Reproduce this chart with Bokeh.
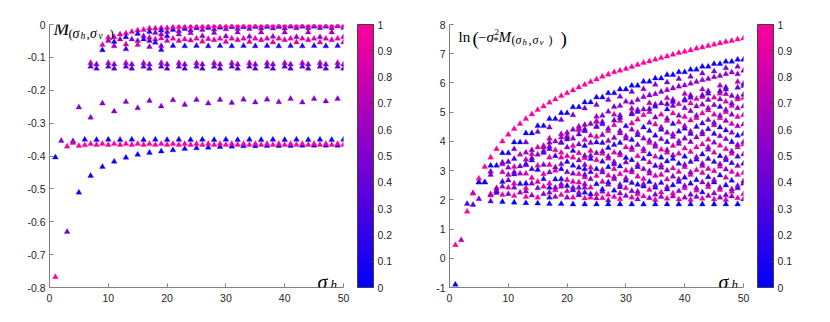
from bokeh.plotting import figure
from bokeh.models import (ColumnDataSource, LinearColorMapper, ColorBar, FixedTicker, Label, Range1d)
from bokeh.layouts import row
from bokeh.embed import file_html
from bokeh.resources import INLINE

# ======================= LEFT PANEL DATA: M(sigma_h, sigma_v) =======================
# lower curve, odd sigma_h
L1_x = [1, 3, 5, 7, 9, 11, 13, 15, 17, 19, 21, 23, 25, 27, 29, 31, 33, 35, 37, 39, 41, 43, 45, 47, 49]
L1_y = [-0.404, -0.631, -0.511, -0.460, -0.433, -0.417, -0.405, -0.396, -0.390, -0.386, -0.382, -0.378,
        -0.376, -0.374, -0.372, -0.371, -0.370, -0.370, -0.369, -0.369, -0.369, -0.368, -0.368, -0.368, -0.368]
L1_c = [0.0, 0.45, 0.1, 0.05, 0.05, 0.05, 0.05, 0.05, 0.05, 0.05, 0.05, 0.05, 0.05, 0.05, 0.05, 0.05,
        0.05, 0.05, 0.05, 0.05, 0.05, 0.05, 0.05, 0.05, 0.05]
# blue row near -0.35, even sigma_h
L2_x = [2, 4, 6, 8, 10, 12, 14, 16, 18, 20, 22, 24, 26, 28, 30, 32, 34, 36, 38, 40, 42, 44, 46, 48, 50]
L2_y = [-0.354, -0.355, -0.350, -0.351, -0.350, -0.351, -0.350, -0.351, -0.350, -0.351, -0.350, -0.351,
        -0.350, -0.351, -0.350, -0.351, -0.350, -0.351, -0.350, -0.351, -0.350, -0.351, -0.350, -0.351, -0.350]
L2_c = [0.5, 0.3, 0.05, 0.05, 0.05, 0.05, 0.05, 0.05, 0.05, 0.05, 0.05, 0.05, 0.05, 0.05, 0.05, 0.05,
        0.05, 0.05, 0.05, 0.05, 0.05, 0.05, 0.05, 0.05, 0.05]
# magenta row near -0.365
L3_x = [1, 3, 4, 5, 6, 7, 8, 9, 10, 11, 12, 13, 14, 15, 16, 17, 18, 19, 20, 21, 22, 23, 24, 25, 26, 27,
        28, 29, 30, 31, 32, 33, 34, 35, 36, 37, 38, 39, 40, 41, 42, 43, 44, 45, 46, 47, 48, 49, 50]
L3_y = [-0.768, -0.371, -0.360, -0.369, -0.367, -0.363, -0.366, -0.363, -0.366, -0.363, -0.366, -0.363,
        -0.366, -0.363, -0.366, -0.363, -0.366, -0.363, -0.366, -0.363, -0.366, -0.363, -0.366, -0.363,
        -0.366, -0.363, -0.366, -0.363, -0.366, -0.363, -0.366, -0.363, -0.366, -0.363, -0.366, -0.363,
        -0.366, -0.363, -0.366, -0.363, -0.366, -0.363, -0.366, -0.363, -0.366, -0.363, -0.366, -0.363, -0.366]
L3_c = [1.0, 1.0, 0.8] + [1.0] * 46
# purple row near -0.24, odd sigma_h
L4_x = [5, 7, 9, 11, 13, 15, 17, 19, 21, 23, 25, 27, 29, 31, 33, 35, 37, 39, 41, 43, 45, 47, 49]
L4_y = [-0.252, -0.283, -0.240, -0.264, -0.235, -0.254, -0.232, -0.249, -0.230, -0.244, -0.229, -0.240,
        -0.229, -0.238, -0.228, -0.237, -0.228, -0.236, -0.226, -0.237, -0.226, -0.234, -0.226]
L4_c = [0.5] * 23
# paired columns near -0.12
L5_x = [7, 7, 8, 8, 10, 10, 11, 11, 13, 13, 14, 14, 16, 16, 17, 17, 19, 19, 20, 20, 22, 22, 23, 23,
        25, 25, 26, 26, 28, 28, 29, 29, 31, 31, 32, 32, 34, 34, 35, 35, 37, 37, 38, 38, 40, 40, 41, 41,
        43, 43, 44, 44, 46, 46, 47, 47, 49, 49, 50, 50]
L5_y = [-0.117, -0.128, -0.121, -0.134] * 15
L5_c = [0.7, 0.35, 0.55, 0.3] * 15
# dense band close to zero
L6_x = [9, 9, 10, 10, 11, 11, 11, 12, 12, 13, 13, 13, 13, 14, 14, 15, 15, 15, 15, 16, 16, 16,
        17, 17, 17, 17, 17, 18, 18, 18, 18, 19, 19, 19, 19, 19, 19, 20, 20, 20, 20]
L6_y = [-0.062, -0.078, -0.050, -0.040, -0.038, -0.053, -0.066, -0.045, -0.030, -0.027, -0.038, -0.060,
        -0.075, -0.022, -0.045, -0.018, -0.028, -0.050, -0.062, -0.016, -0.035, -0.045, -0.012, -0.022,
        -0.040, -0.050, -0.068, -0.012, -0.025, -0.045, -0.055, -0.010, -0.018, -0.030, -0.042, -0.065,
        -0.077, -0.010, -0.022, -0.035, -0.050]
L6_c = [0.9, 0.05, 0.6, 0.85, 0.9, 0.1, 0.6, 0.6, 0.85, 0.95, 0.1, 0.85, 0.3, 0.9, 0.55, 0.95, 0.1,
        0.55, 0.85, 0.9, 0.6, 0.2, 0.95, 0.1, 0.85, 0.3, 0.55, 0.9, 0.55, 0.85, 0.2, 0.95, 0.1, 0.6,
        0.9, 0.55, 0.2, 0.9, 0.55, 0.15, 0.85]
L7_x = list(range(21, 51))
L7_top = [-0.008, -0.007, -0.007, -0.006, -0.006, -0.006, -0.005, -0.005, -0.005, -0.005, -0.004,
          -0.004, -0.004, -0.004, -0.004, -0.004, -0.003, -0.003, -0.003, -0.003, -0.003, -0.003,
          -0.003, -0.003, -0.003, -0.003, -0.003, -0.003, -0.003, -0.003]
L7_mid = [-0.016, -0.020, -0.013, -0.018, -0.011, -0.016, -0.010, -0.015, -0.009, -0.014, -0.008,
          -0.013, -0.008, -0.013, -0.007, -0.012, -0.007, -0.012, -0.007, -0.012, -0.006, -0.011,
          -0.006, -0.011, -0.006, -0.011, -0.006, -0.011, -0.005, -0.010]
L7_low = [-0.043, -0.030, -0.045, -0.026, -0.043, -0.035, -0.044, -0.025, -0.043, -0.036, -0.043,
          -0.024, -0.043, -0.037, -0.043, -0.024, -0.043, -0.037, -0.043, -0.024, -0.043, -0.038,
          -0.043, -0.024, -0.043, -0.038, -0.043, -0.024, -0.043, -0.038]
L7_deep = [-0.065, -0.050, -0.066, -0.048, -0.065, -0.052, -0.066, -0.047, -0.065, -0.053, -0.066,
           -0.047, -0.065, -0.053, -0.066, -0.047, -0.065, -0.054, -0.066, -0.047, -0.065, -0.054,
           -0.066, -0.047, -0.065, -0.054, -0.066, -0.047, -0.065, -0.054]
L7_c_top = [0.95] * 30
L7_c_mid = [0.1, 0.55] * 15
L7_c_low = [0.9, 0.6] * 15
L7_c_deep = [0.15, 0.85] * 15

# ======================= RIGHT PANEL DATA: ln(-sigma*^2 M) =======================
R1_x = list(range(3, 51))
R1_y = [1.60, 2.22, 2.73, 3.13, 3.45, 3.74, 4.00, 4.23, 4.43, 4.60, 4.77, 4.93, 5.08, 5.20, 5.33, 5.44,
        5.56, 5.65, 5.75, 5.85, 5.94, 6.04, 6.12, 6.22, 6.29, 6.37, 6.42, 6.48, 6.55, 6.62, 6.69, 6.74,
        6.80, 6.86, 6.91, 6.97, 7.03, 7.07, 7.12, 7.18, 7.22, 7.27, 7.31, 7.36, 7.41, 7.44, 7.49, 7.53]
R1_c = [1.0] * 48
R2_x = list(range(3, 51))
R2_y = [1.86, 1.83, 2.60, 2.60, 3.17, 3.17, 3.60, 3.60, 3.97, 3.97, 4.28, 4.28, 4.53, 4.53, 4.77, 4.77,
        4.97, 4.97, 5.17, 5.17, 5.34, 5.34, 5.51, 5.51, 5.65, 5.65, 5.78, 5.78, 5.91, 5.91, 6.05, 6.05,
        6.16, 6.16, 6.28, 6.28, 6.37, 6.37, 6.46, 6.46, 6.56, 6.56, 6.65, 6.65, 6.73, 6.73, 6.80, 6.80]
R2_c = [0.3, 0.3] + [0.05] * 46
R3_x = [1, 1, 2, 4, 5]
R3_y = [-0.90, 0.45, 0.62, 2.22, 2.03]
R3_c = [0.0, 1.0, 0.65, 0.8, 0.5]
# purple row under the blue curve (odd sigma_h)
R4_x = [7, 9, 11, 13, 15, 17, 19, 21, 23, 25, 27, 29, 31, 33, 35, 37, 39, 41, 43, 45, 47, 49]
R4_y = [2.86, 3.22, 3.74, 3.97, 4.33, 4.48, 4.74, 4.90, 5.13, 5.25, 5.42, 5.53, 5.70, 5.79, 5.94, 6.02,
        6.14, 6.22, 6.33, 6.40, 6.51, 6.56]
R4_c = [0.5] * 22
# paired columns (same family as the -0.12 pairs on the left)
R5_x = L5_x
R5_y = [2.15, 1.95, 2.31, 2.24, 2.86, 2.67, 2.95, 2.87, 3.38, 3.19, 3.43, 3.35, 3.80, 3.61, 3.82, 3.74,
        4.14, 3.95, 4.14, 4.07, 4.44, 4.24, 4.42, 4.35, 4.69, 4.50, 4.67, 4.59, 4.92, 4.72, 4.89, 4.81,
        5.12, 4.93, 5.08, 5.01, 5.31, 5.11, 5.26, 5.19, 5.48, 5.28, 5.43, 5.35, 5.63, 5.44, 5.58, 5.50,
        5.78, 5.58, 5.72, 5.64, 5.91, 5.72, 5.85, 5.78, 6.04, 5.84, 5.98, 5.90]
R5_c = L5_c
# bottom blue row (odd sigma_h)
R6_x = [9, 11, 13, 15, 17, 19, 21, 23, 25, 27, 29, 31, 33, 35, 37, 39, 41, 43, 45, 47, 49]
R6_y = [1.93, 1.91, 1.89, 1.88, 1.86, 1.86, 1.85, 1.85, 1.85, 1.85, 1.85, 1.85, 1.85, 1.85, 1.85, 1.85,
        1.85, 1.85, 1.85, 1.85, 1.85]
R6_c = [0.02] * 21
# the remaining cloud, column by column
R7_cols = [5, 6, 7, 8, 9, 10, 11, 12, 13, 14, 15, 16, 17, 18, 19, 20, 21, 22, 23, 24, 25, 26, 27, 28, 29,
           30, 31, 32, 33, 34, 35, 36, 37, 38, 39, 40, 41, 42, 43, 44, 45, 46, 47, 48, 49, 50]
R7_y = [
    [2.60],
    [2.60],
    [2.20, 2.97],
    [2.40, 2.31],
    [2.17, 2.45, 2.62, 2.95, 3.28],
    [2.20, 2.42, 3.10, 3.30],
    [2.14, 2.42, 2.56, 3.13, 3.40],
    [2.25, 2.55, 2.90, 3.15, 3.55],
    [2.10, 2.29, 2.40, 2.56, 2.90, 3.22, 3.62],
    [2.15, 2.56, 2.75, 3.05, 3.57, 3.70],
    [2.08, 2.40, 2.62, 3.03, 3.17, 3.55, 3.80],
    [2.20, 2.45, 2.71, 2.88, 3.20, 3.68, 3.85],
    [2.08, 2.25, 2.42, 2.56, 2.94, 3.20, 3.45, 3.96, 4.10],
    [2.10, 2.33, 2.42, 2.70, 3.00, 3.11, 3.50, 3.70, 4.00],
    [2.17, 2.45, 2.54, 2.71, 3.05, 3.22, 3.45, 3.62, 3.97, 4.25],
    [2.08, 2.30, 2.48, 2.68, 2.95, 3.30, 3.50, 3.80, 4.19, 4.30],
    [2.08, 2.33, 2.42, 2.62, 2.90, 3.17, 3.45, 3.68, 3.85, 4.10, 4.40],
    [2.16, 2.25, 2.42, 2.60, 2.88, 3.10, 3.35, 3.60, 3.90, 4.39, 4.51],
    [2.05, 2.25, 2.42, 2.54, 2.77, 2.86, 3.05, 3.20, 3.43, 3.51, 3.85, 4.05, 4.57],
    [2.08, 2.20, 2.42, 2.71, 2.95, 3.10, 3.40, 3.51, 3.68, 3.95, 4.20, 4.60],
    [2.05, 2.20, 2.54, 2.82, 3.05, 3.36, 3.60, 3.97, 4.16, 4.51, 4.67, 4.85],
    [2.06, 2.28, 2.36, 2.62, 2.94, 3.02, 3.31, 3.58, 3.66, 3.95, 4.22, 4.88],
    [1.98, 2.18, 2.52, 2.60, 2.83, 3.12, 3.41, 3.49, 3.78, 4.02, 4.35, 4.44, 5.02],
    [2.10, 2.32, 2.71, 2.79, 3.05, 3.22, 3.30, 3.62, 3.88, 4.12, 4.56, 5.18],
    [2.03, 2.22, 2.44, 2.52, 2.88, 3.15, 3.52, 3.60, 3.95, 4.28, 4.36, 4.70, 5.22],
    [2.14, 2.40, 2.66, 2.74, 3.00, 3.28, 3.44, 3.80, 4.10, 4.18, 4.52, 5.36],
    [2.08, 2.30, 2.58, 2.94, 3.02, 3.36, 3.70, 3.78, 4.05, 4.40, 4.62, 4.98, 5.33],
    [2.02, 2.20, 2.28, 2.52, 2.80, 3.12, 3.20, 3.50, 3.88, 4.22, 4.30, 4.75, 5.42],
    [2.12, 2.46, 2.54, 2.72, 3.05, 3.40, 3.66, 3.74, 4.10, 4.48, 4.90, 5.10, 5.52],
    [2.06, 2.34, 2.62, 2.90, 2.98, 3.28, 3.56, 3.95, 4.03, 4.36, 4.64, 5.00, 5.58],
    [2.00, 2.18, 2.42, 2.50, 2.82, 3.16, 3.48, 3.82, 3.90, 4.20, 4.58, 4.82, 5.62],
    [2.10, 2.26, 2.58, 2.86, 3.10, 3.18, 3.45, 3.72, 4.08, 4.40, 4.48, 4.92, 5.30, 5.70],
    [2.04, 2.36, 2.44, 2.70, 3.00, 3.32, 3.62, 3.70, 3.98, 4.30, 4.70, 4.78, 5.10, 5.76],
    [2.12, 2.22, 2.50, 2.80, 3.08, 3.40, 3.52, 3.85, 4.16, 4.24, 4.60, 4.96, 5.22, 5.82],
    [2.02, 2.30, 2.62, 2.70, 2.96, 3.24, 3.58, 3.92, 4.00, 4.34, 4.66, 4.88, 5.28, 5.88],
    [2.08, 2.40, 2.48, 2.76, 3.12, 3.20, 3.48, 3.76, 4.10, 4.44, 4.52, 4.84, 5.14, 5.40, 5.92],
    [2.00, 2.18, 2.56, 2.86, 2.94, 3.30, 3.64, 3.98, 4.26, 4.34, 4.72, 5.04, 5.30, 5.98],
    [2.10, 2.32, 2.40, 2.68, 3.02, 3.38, 3.46, 3.80, 4.14, 4.50, 4.80, 4.88, 5.20, 5.46, 6.04],
    [2.04, 2.26, 2.60, 2.92, 3.16, 3.24, 3.56, 3.90, 4.24, 4.32, 4.62, 4.96, 5.26, 5.52, 6.10],
    [2.14, 2.44, 2.52, 2.78, 3.06, 3.40, 3.72, 3.80, 4.06, 4.42, 4.74, 5.06, 5.14, 5.42, 6.14],
    [2.02, 2.22, 2.60, 2.68, 2.98, 3.30, 3.62, 3.96, 4.26, 4.56, 4.64, 4.92, 5.24, 5.50, 6.20],
    [2.08, 2.34, 2.42, 2.84, 3.14, 3.22, 3.50, 3.86, 4.18, 4.48, 4.80, 4.88, 5.18, 5.44, 5.64, 6.24],
    [2.00, 2.16, 2.50, 2.76, 3.04, 3.36, 3.44, 3.74, 4.08, 4.38, 4.70, 5.00, 5.08, 5.36, 5.62, 6.30],
    [2.12, 2.28, 2.36, 2.66, 2.96, 3.26, 3.58, 3.66, 3.98, 4.30, 4.60, 4.92, 5.22, 5.30, 5.56, 6.36],
    [2.06, 2.40, 2.48, 2.86, 3.16, 3.48, 3.80, 3.88, 4.20, 4.52, 4.84, 5.14, 5.44, 5.52, 6.30],
    [2.02, 2.20, 2.56, 2.64, 2.92, 3.24, 3.56, 3.90, 3.98, 4.26, 4.58, 4.90, 5.20, 5.48, 5.60, 6.42],
]
R7_c = [
    [0.05],
    [0.05],
    [0.8, 0.5],
    [0.55, 0.6],
    [0.9, 0.6, 0.2, 0.75, 0.55],
    [0.55, 0.85, 0.6, 0.35],
    [0.95, 0.55, 0.85, 0.9, 0.3],
    [0.6, 0.2, 0.65, 0.4, 0.75],
    [0.95, 0.55, 0.9, 0.1, 0.85, 0.1, 0.6],
    [0.6, 0.55, 0.85, 0.2, 0.9, 0.5],
    [0.95, 0.5, 0.8, 0.1, 0.9, 0.55, 0.85],
    [0.55, 0.9, 0.15, 0.9, 0.5, 0.55, 0.7],
    [0.2, 0.55, 0.1, 0.9, 0.55, 0.85, 0.9, 0.55, 0.75],
    [0.6, 0.9, 0.55, 0.1, 0.85, 0.55, 0.2, 0.9, 0.6],
    [0.9, 0.55, 0.6, 0.1, 0.1, 0.55, 0.9, 0.95, 0.55, 0.6],
    [0.55, 0.85, 0.1, 0.9, 0.5, 0.15, 0.85, 0.5, 0.75, 0.6],
    [0.95, 0.1, 0.55, 0.85, 0.5, 0.1, 0.9, 0.1, 0.9, 0.6, 0.5],
    [0.1, 0.6, 0.55, 0.9, 0.9, 0.2, 0.55, 0.85, 0.5, 0.9, 0.55],
    [0.9, 0.15, 0.55, 0.55, 0.9, 0.5, 0.1, 0.55, 0.95, 0.55, 0.1, 0.8, 0.6],
    [0.9, 0.1, 0.9, 0.55, 0.2, 0.85, 0.1, 0.55, 0.9, 0.55, 0.8, 0.5],
    [0.6, 0.9, 0.1, 0.9, 0.1, 0.95, 0.55, 0.1, 0.9, 0.55, 0.9, 0.6],
    [0.9, 0.55, 0.1, 0.85, 0.5, 0.6, 0.15, 0.9, 0.55, 0.2, 0.6, 0.55],
    [0.6, 0.95, 0.55, 0.2, 0.9, 0.1, 0.85, 0.55, 0.15, 0.6, 0.9, 0.5, 0.55],
    [0.85, 0.15, 0.55, 0.6, 0.9, 0.1, 0.55, 0.85, 0.2, 0.55, 0.9, 0.5],
    [0.95, 0.55, 0.1, 0.55, 0.85, 0.2, 0.9, 0.55, 0.15, 0.6, 0.55, 0.9, 0.55],
    [0.55, 0.9, 0.15, 0.6, 0.85, 0.55, 0.1, 0.9, 0.55, 0.6, 0.2, 0.55],
    [0.9, 0.5, 0.2, 0.85, 0.55, 0.1, 0.9, 0.55, 0.15, 0.6, 0.85, 0.55, 0.5],
    [0.6, 0.9, 0.55, 0.1, 0.85, 0.2, 0.55, 0.9, 0.55, 0.15, 0.6, 0.85, 0.55],
    [0.95, 0.1, 0.55, 0.85, 0.55, 0.2, 0.9, 0.6, 0.55, 0.15, 0.9, 0.55, 0.6],
    [0.55, 0.9, 0.15, 0.6, 0.55, 0.85, 0.1, 0.9, 0.55, 0.2, 0.6, 0.85, 0.55],
    [0.9, 0.5, 0.1, 0.55, 0.85, 0.2, 0.9, 0.55, 0.6, 0.15, 0.9, 0.55, 0.55],
    [0.55, 0.9, 0.2, 0.85, 0.55, 0.6, 0.1, 0.9, 0.55, 0.15, 0.6, 0.9, 0.5, 0.55],
    [0.9, 0.15, 0.55, 0.9, 0.55, 0.1, 0.85, 0.6, 0.2, 0.55, 0.9, 0.55, 0.15, 0.6],
    [0.6, 0.9, 0.15, 0.55, 0.9, 0.2, 0.55, 0.85, 0.55, 0.6, 0.15, 0.9, 0.5, 0.55],
    [0.9, 0.55, 0.1, 0.55, 0.85, 0.15, 0.9, 0.55, 0.6, 0.2, 0.9, 0.55, 0.85, 0.55],
    [0.55, 0.9, 0.6, 0.15, 0.85, 0.55, 0.1, 0.9, 0.55, 0.2, 0.6, 0.9, 0.55, 0.5, 0.55],
    [0.9, 0.5, 0.15, 0.85, 0.55, 0.2, 0.9, 0.55, 0.1, 0.6, 0.85, 0.55, 0.9, 0.55],
    [0.55, 0.9, 0.55, 0.1, 0.85, 0.2, 0.55, 0.9, 0.55, 0.15, 0.9, 0.6, 0.55, 0.85, 0.55],
    [0.9, 0.15, 0.55, 0.85, 0.55, 0.6, 0.1, 0.9, 0.55, 0.5, 0.2, 0.9, 0.55, 0.85, 0.55],
    [0.6, 0.9, 0.55, 0.15, 0.85, 0.2, 0.55, 0.6, 0.9, 0.15, 0.55, 0.9, 0.55, 0.5, 0.55],
    [0.9, 0.55, 0.1, 0.55, 0.85, 0.2, 0.9, 0.55, 0.15, 0.6, 0.55, 0.9, 0.55, 0.85, 0.55],
    [0.55, 0.9, 0.6, 0.15, 0.85, 0.55, 0.1, 0.9, 0.55, 0.2, 0.9, 0.55, 0.15, 0.55, 0.85, 0.55],
    [0.9, 0.5, 0.15, 0.85, 0.55, 0.2, 0.55, 0.9, 0.55, 0.15, 0.6, 0.9, 0.55, 0.85, 0.55, 0.55],
    [0.55, 0.9, 0.55, 0.15, 0.85, 0.2, 0.9, 0.55, 0.15, 0.6, 0.85, 0.55, 0.9, 0.55, 0.5, 0.55],
    [0.9, 0.15, 0.55, 0.85, 0.55, 0.2, 0.9, 0.55, 0.15, 0.6, 0.85, 0.55, 0.9, 0.55, 0.55],
    [0.55, 0.9, 0.15, 0.55, 0.85, 0.2, 0.55, 0.9, 0.55, 0.15, 0.6, 0.85, 0.55, 0.9, 0.5, 0.55],
]

# ======================= STYLE =======================
def make_palette(n=256):
    pal = []
    for i in range(n):
        t = i / (n - 1)
        pal.append("#%02x%02x%02x" % (int(round(255 * t)), 0, int(round(255 - 100 * t))))
    return pal

PAL = make_palette()
AX_COL = "#808080"
TXT_COL = "#262626"
TICK_FONT = "Liberation Sans"
MATH_FONT = "Liberation Serif"
FRAME_W = 294
FRAME_H = 263
TOP = 24
BOTTOM = 30


def base_fig(xr, yr, bl, br, yticks, ylabels):
    p = figure(width=bl + FRAME_W + br, height=TOP + FRAME_H + BOTTOM, output_backend="svg",
               toolbar_location=None, x_range=Range1d(*xr), y_range=Range1d(*yr),
               min_border_left=bl, min_border_right=br, min_border_top=TOP, min_border_bottom=BOTTOM,
               outline_line_color=None)
    p.grid.visible = False
    for ax in (p.xaxis[0], p.yaxis[0]):
        ax.axis_line_color = AX_COL
        ax.major_tick_line_color = AX_COL
        ax.major_tick_in = 4
        ax.major_tick_out = 0
        ax.minor_tick_line_color = None
        ax.major_label_text_font = TICK_FONT
        ax.major_label_text_font_size = "10.5px"
        ax.major_label_text_color = TXT_COL
    p.xaxis[0].ticker = FixedTicker(ticks=[0, 10, 20, 30, 40, 50])
    p.xaxis[0].major_label_standoff = 6
    p.yaxis[0].ticker = FixedTicker(ticks=yticks)
    p.yaxis[0].major_label_overrides = {t: l for t, l in zip(yticks, ylabels)}
    p.yaxis[0].major_label_standoff = 4
    mapper = LinearColorMapper(palette=PAL, low=0, high=1)
    cticks = [0, 0.1, 0.2, 0.3, 0.4, 0.5, 0.6, 0.7, 0.8, 0.9, 1]
    cb = ColorBar(color_mapper=mapper, width=16, height=FRAME_H, padding=0, margin=0, location=(14, 0),
                  ticker=FixedTicker(ticks=cticks),
                  major_label_overrides={t: ("%g" % t) for t in cticks},
                  major_label_text_font=TICK_FONT, major_label_text_font_size="10.5px",
                  major_label_text_color=TXT_COL, bar_line_color="#404040",
                  major_tick_line_color="#404040", major_tick_in=3, major_tick_out=0,
                  label_standoff=4, background_fill_alpha=0)
    p.add_layout(cb, "right")
    return p, mapper


def add_points(p, mapper, xs, ys, cs):
    src = ColumnDataSource(dict(x=xs, y=ys, c=cs))
    cmap = {"field": "c", "transform": mapper}
    p.scatter("x", "y", source=src, marker="triangle", size=5.8, fill_color=cmap, line_color=cmap,
              line_alpha=0.3, line_width=1)


def add_text(p, x, y, text, size, style="italic"):
    p.add_layout(Label(x=x, y=y, text=text, text_font=MATH_FONT, text_font_size=size,
                       text_font_style=style, text_color="#000000", text_baseline="alphabetic",
                       text_align="left"))

# ----------------------- left panel -----------------------
yt_l = [-0.8, -0.7, -0.6, -0.5, -0.4, -0.3, -0.2, -0.1, 0]
yl_l = ["-0.8", "-0.7", "-0.6", "-0.5", "-0.4", "-0.3", "-0.2", "-0.1", "0"]
p1, m1 = base_fig((0, 50), (-0.8, 0), 49, 57, yt_l, yl_l)
add_points(p1, m1, L5_x, L5_y, L5_c)
add_points(p1, m1, L4_x, L4_y, L4_c)
add_points(p1, m1, L1_x, L1_y, L1_c)
add_points(p1, m1, L2_x, L2_y, L2_c)
add_points(p1, m1, L3_x, L3_y, L3_c)
add_points(p1, m1, L6_x, L6_y, L6_c)
add_points(p1, m1, L7_x, L7_deep, L7_c_deep)
add_points(p1, m1, L7_x, L7_low, L7_c_low)
add_points(p1, m1, L7_x, L7_mid, L7_c_mid)
add_points(p1, m1, L7_x, L7_top, L7_c_top)

sx = FRAME_W / 50.0
sy1 = FRAME_H / 0.8

def lx(px):
    return (px - 49) / sx

def ly(py):
    return -(py - 24) / sy1

add_text(p1, lx(53), ly(28), "M", "19px")
add_text(p1, lx(68), ly(33), "(", "13px", "normal")
add_text(p1, lx(72), ly(33), "σ", "14px")
add_text(p1, lx(80), ly(35), "h", "9.5px")
add_text(p1, lx(86), ly(33), ",", "13px", "normal")
add_text(p1, lx(89.5), ly(33), "σ", "14px")
add_text(p1, lx(98), ly(35), "v", "9.5px")
add_text(p1, lx(109), ly(33), ")", "13px", "normal")
add_text(p1, lx(317), ly(281), "σ", "20px")
add_text(p1, lx(330), ly(284), "h", "13px")

# ----------------------- right panel -----------------------
yt_r = [-1, 0, 1, 2, 3, 4, 5, 6, 7, 8]
yl_r = ["%d" % t for t in yt_r]
p2, m2 = base_fig((0, 50), (-1, 8), 49, 78, yt_r, yl_r)
rx_all, ry_all, rc_all = [], [], []
for xcol, ycol, ccol in zip(R7_cols, R7_y, R7_c):
    for yv, cv in zip(ycol, ccol):
        rx_all.append(xcol)
        ry_all.append(yv)
        rc_all.append(cv)
add_points(p2, m2, rx_all, ry_all, rc_all)
add_points(p2, m2, R6_x, R6_y, R6_c)
add_points(p2, m2, R5_x, R5_y, R5_c)
add_points(p2, m2, R4_x, R4_y, R4_c)
add_points(p2, m2, R2_x, R2_y, R2_c)
add_points(p2, m2, R1_x, R1_y, R1_c)
add_points(p2, m2, R3_x, R3_y, R3_c)

sy2 = FRAME_H / 9.0

def rx(px):
    return (px - 449) / sx

def ry(py):
    return 8 - (py - 24) / sy2

add_text(p2, rx(458), ry(36), "ln", "15px", "normal")
add_text(p2, rx(472), ry(38), "(", "19px", "normal")
add_text(p2, rx(478), ry(36), "−", "14px", "normal")
add_text(p2, rx(486), ry(36), "σ", "15px")
add_text(p2, rx(494), ry(31), "2", "9px", "normal")
add_text(p2, rx(493), ry(40), "*", "10px", "normal")
add_text(p2, rx(498), ry(36), "M", "15px")
add_text(p2, rx(511), ry(39), "(", "12px", "normal")
add_text(p2, rx(515), ry(39), "σ", "12px")
add_text(p2, rx(522), ry(41), "h", "9px")
add_text(p2, rx(528), ry(39), ",", "12px", "normal")
add_text(p2, rx(532), ry(39), "σ", "12px")
add_text(p2, rx(539), ry(41), "v", "9px")
add_text(p2, rx(548), ry(39), ")", "12px", "normal")
add_text(p2, rx(560), ry(38), ")", "19px", "normal")
add_text(p2, rx(718), ry(281), "σ", "20px")
add_text(p2, rx(731), ry(284), "h", "13px")

layout = row(p1, p2, spacing=0)
open("out.html", "w").write(file_html(layout, INLINE))
